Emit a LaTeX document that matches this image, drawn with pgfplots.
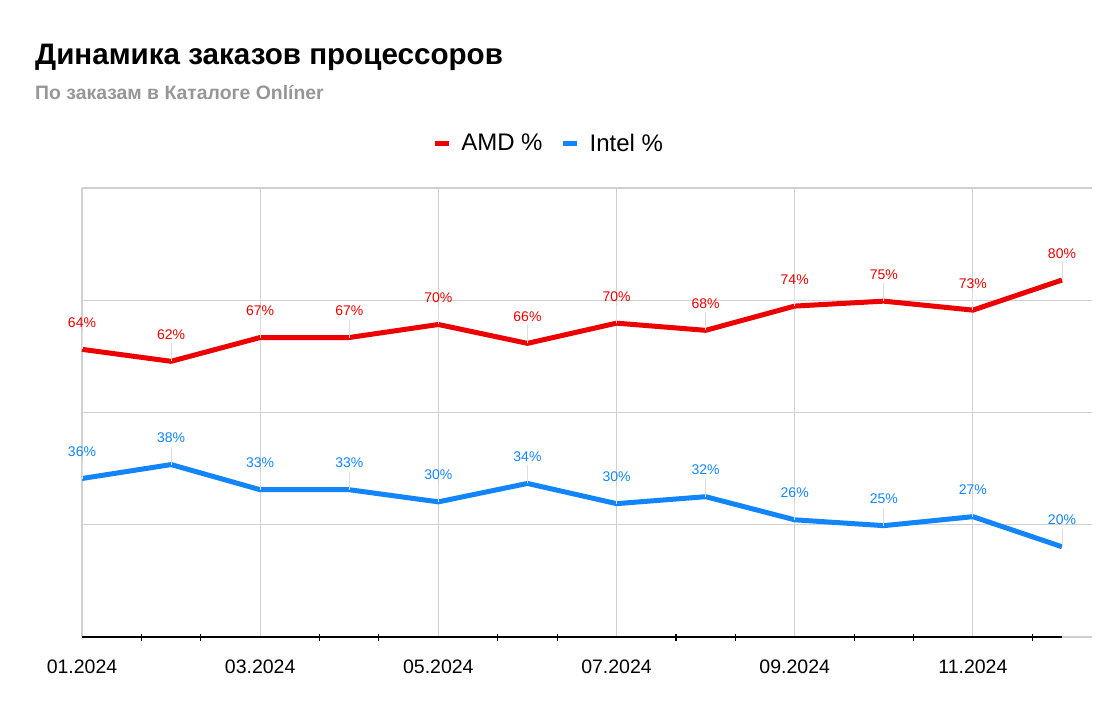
\documentclass[border=0pt]{standalone}
\usepackage{fontspec}
\setmainfont{Liberation Sans}
\usepackage{pgfplots}
\pgfplotsset{compat=1.18}
\definecolor{amdred}{RGB}{236,0,0}
\definecolor{intelblue}{RGB}{18,133,250}
\definecolor{gridgray}{RGB}{208,208,208}
\definecolor{subgray}{RGB}{150,150,150}

\begin{document}
\begin{tikzpicture}[x=1pt,y=1pt]
\useasboundingbox (0,0) rectangle (1100,715);
% titles
\node[anchor=base west,inner sep=0pt,font=\bfseries\fontsize{29.6}{34}\selectfont] at (35,650) {Динамика заказов процессоров};
\node[anchor=base west,inner sep=0pt,font=\bfseries\fontsize{19.4}{22}\selectfont,text=subgray] at (35,615) {По заказам в Каталоге Onlíner};

\begin{axis}[
    at={(82pt,78pt)}, anchor=south west,
    scale only axis, width=1010pt, height=449pt,
    xmin=0, xmax=11.337, ymin=0, ymax=100,
    axis line style={draw=none},
    xtick={0,2,4,6,8,10},
    xticklabels={01.2024,03.2024,05.2024,07.2024,09.2024,11.2024},
    minor xtick={0.667,1.333,2.667,3.333,4.667,5.333,6.667,7.333,8.667,9.333,10.667},
    ytick={0,25,50,75,100}, yticklabels={},
    major tick length=0pt, minor tick length=7pt,
    xtick align=center, xtick pos=bottom, ytick pos=left,
    minor tick style={black,line width=1.1pt},
    xmajorgrids, ymajorgrids,
    grid style={gridgray,line width=1.2pt},
    xticklabel style={font=\fontsize{19.5}{22}\selectfont,anchor=north,inner sep=0pt,yshift=-23pt},
    clip=false,
    legend columns=2,
    legend style={draw=none,fill=none,at={(0.462,1.10)},anchor=center,
        font=\fontsize{24}{28}\selectfont,
        /tikz/every even column/.append style={column sep=16pt},
        /tikz/every odd column/.append style={column sep=8pt}},
    legend image code/.code={\draw[#1,line width=5pt,line cap=butt] (0pt,0pt) -- (14pt,0pt);},
    point meta=explicit symbolic,
    nodes near coords={\pgfplotspointmeta\%},
    nodes near coords style={font=\fontsize{14}{16}\selectfont,anchor=base,inner sep=0pt,yshift=22pt},
    error bars/y dir=plus, error bars/y fixed=4,
    error bars/error mark=none,
    error bars/error bar style={gridgray!70,line width=0.8pt},
]
\addplot[amdred,line width=5pt,line join=round,mark=none,text=amdred] coordinates {
 (0,64.06)[64] (1,61.4)[62] (2,66.7)[67] (3,66.7)[67] (4,69.6)[70] (5,65.4)[66]
 (6,69.9)[70] (7,68.3)[68] (8,73.7)[74] (9,74.8)[75] (10,72.8)[73] (11,79.5)[80]};
\addlegendentry{AMD \%}
\addplot[intelblue,line width=5pt,line join=round,mark=none,text=intelblue] coordinates {
 (0,35.3)[36] (1,38.4)[38] (2,32.8)[33] (3,32.8)[33] (4,30.1)[30] (5,34.2)[34]
 (6,29.7)[30] (7,31.25)[32] (8,26.1)[26] (9,24.8)[25] (10,26.8)[27] (11,20.1)[20]};
\addlegendentry{Intel \%}
\draw[black,line width=1.3pt] (axis cs:0,0) -- (axis cs:11,0);
\end{axis}
\end{tikzpicture}
\end{document}
